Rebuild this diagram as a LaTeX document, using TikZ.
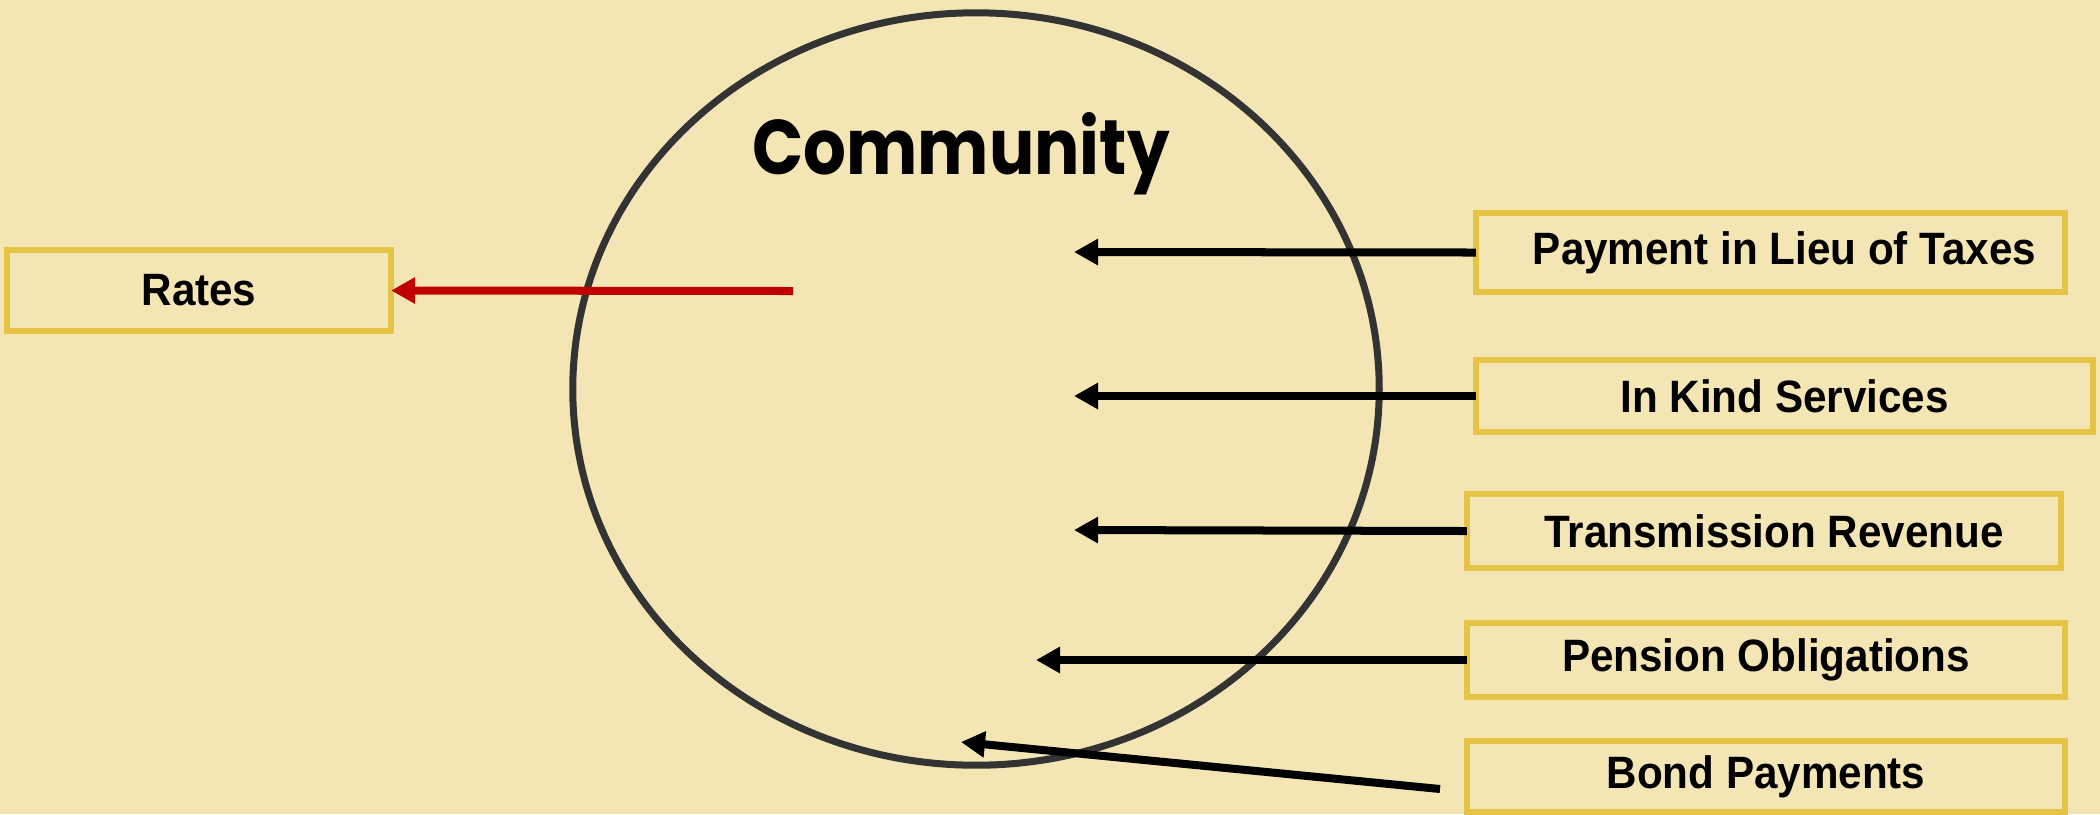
\documentclass[tikz,border=0pt]{standalone}
\usepackage{fontspec}
\setmainfont{Liberation Sans}
\newfontfamily\boxfont[FakeStretch=0.93]{Liberation Sans}
\newfontfamily\titlefont[FakeStretch=0.87]{Poppins}
\usetikzlibrary{arrows.meta,shapes.geometric}
\definecolor{bg}{HTML}{F4E6B4}
\definecolor{boxline}{HTML}{E6C245}
\definecolor{ringline}{HTML}{333333}
\definecolor{redline}{HTML}{C00000}
\tikzset{
  px/.style={x=0.01cm,y=-0.01cm},
  labelbox/.style={draw=boxline, line width=0.065cm, rectangle, inner sep=0pt, outer sep=0pt,
    font=\boxfont\bfseries\fontsize{12.9}{14}\selectfont, text=black},
  flow/.style={line width=0.08cm, -{Triangle[length=0.24cm,width=0.25cm]}},
}
\begin{document}
\begin{tikzpicture}[px]
\path[fill=bg,use as bounding box] (0,0) rectangle (2100,814);
% ring
\node[ellipse, draw=ringline, line width=0.07cm, minimum width=8.06cm, minimum height=7.52cm, inner sep=0pt] (comm) at (976,389) {};
\node[font=\titlefont\bfseries\fontsize{22}{26}\selectfont, anchor=base] (title) at (961,174) {Community};
% boxes
\node[labelbox, minimum width=3.84cm, minimum height=0.81cm] (rates) at (199,290.5) {\raisebox{-0.05cm}{Rates}};
\node[labelbox, minimum width=5.89cm, minimum height=0.79cm] (pilot) at (1770.5,252.5) {\hspace{0.28cm}\raisebox{-0.03cm}{Payment in Lieu of Taxes}};
\node[labelbox, minimum width=6.17cm, minimum height=0.72cm] (kind) at (1784.5,396) {In Kind Services};
\node[labelbox, minimum width=5.94cm, minimum height=0.74cm] (trans) at (1764,531) {\hspace{0.2cm}Transmission Revenue};
\node[labelbox, minimum width=5.98cm, minimum height=0.74cm] (pens) at (1766,660) {Pension Obligations};
\node[labelbox, minimum width=5.98cm, minimum height=0.71cm] (bond) at (1766,776.5) {Bond Payments};
% free ends
\coordinate (rstart) at (793,291);
\coordinate (t1) at (1074,252);
\coordinate (t2) at (1074,396);
\coordinate (t3) at (1074,530);
\coordinate (t4) at (1036,660);
\coordinate (bstart) at (1440,789);
\coordinate (t5) at (961,742);
% connectors
\draw[flow, draw=redline] (rstart) -- (rates.east);
\draw[flow] (pilot.west) -- (t1);
\draw[flow] (kind.west) -- (t2);
\draw[flow] (trans.west) -- (t3);
\draw[flow] (pens.west) -- (t4);
\draw[flow] (bstart) -- (t5);
\end{tikzpicture}
\end{document}
